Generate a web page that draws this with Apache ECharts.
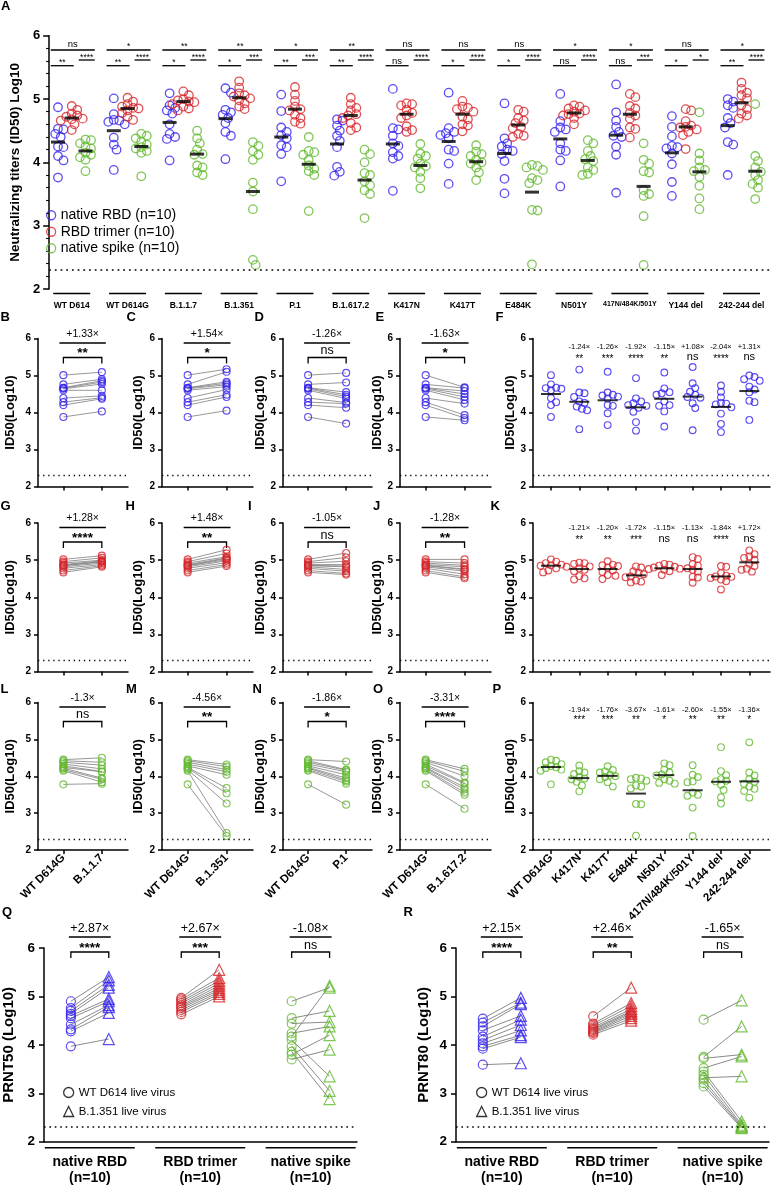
<!DOCTYPE html>
<html><head><meta charset="utf-8">
<script src="https://cdn.jsdelivr.net/npm/echarts@6/dist/echarts.min.js"></script>
<style>html,body{margin:0;padding:0;background:#fff}#c{width:772px;height:1188px}</style>
</head><body><div id="c"></div>
<script>
// ================= DATA =================
const CATS_A = ['WT D614','WT D614G','B.1.1.7','B.1.351','P.1','B.1.617.2','K417N','K417T','E484K','N501Y','417N/484K/501Y','Y144 del','242-244 del'];
const NAMES_A = ['native RBD (n=10)','RBD trimer (n=10)','native spike (n=10)'];
const LOD = 2.3;

const rbd = [
 [4.87,4.53,4.52,4.45,4.40,4.25,4.24,4.10,4.03,3.76],
 [5.01,4.76,4.67,4.66,4.64,4.60,4.39,4.28,4.20,3.88],
 [5.09,4.90,4.86,4.82,4.77,4.60,4.45,4.40,4.37,4.03],
 [5.17,5.10,4.83,4.79,4.75,4.70,4.62,4.48,4.42,4.05],
 [5.07,4.81,4.55,4.48,4.43,4.38,4.27,4.24,4.13,3.70],
 [4.68,4.66,4.58,4.50,4.42,4.34,4.24,3.93,3.85,3.79],
 [5.16,4.54,4.52,4.42,4.30,4.26,4.16,4.10,4.06,3.55],
 [5.10,4.54,4.48,4.46,4.43,4.38,4.20,4.18,3.98,3.66],
 [4.93,4.38,4.30,4.25,4.20,4.18,4.13,4.02,3.74,3.51],
 [5.08,4.65,4.55,4.52,4.48,4.30,4.20,4.18,4.03,3.62],
 [5.23,4.79,4.66,4.56,4.48,4.42,4.40,4.25,4.12,3.52],
 [4.73,4.56,4.41,4.26,4.24,4.22,4.14,3.97,3.69,3.47],
 [5.00,4.96,4.90,4.86,4.70,4.62,4.55,4.32,4.28,3.80]
];
const trimer = [
 [4.89,4.83,4.77,4.74,4.72,4.69,4.68,4.66,4.60,4.51],
 [5.02,4.96,4.92,4.88,4.86,4.85,4.82,4.78,4.72,4.67],
 [5.12,5.06,5.00,4.98,4.96,4.95,4.92,4.88,4.85,4.82],
 [5.28,5.18,5.09,5.06,5.04,5.01,4.98,4.93,4.88,4.84],
 [5.19,5.07,4.97,4.88,4.84,4.82,4.75,4.70,4.64,4.61],
 [5.02,4.92,4.86,4.82,4.76,4.74,4.70,4.62,4.55,4.51],
 [4.93,4.92,4.90,4.83,4.78,4.74,4.70,4.57,4.51,4.48],
 [4.97,4.88,4.86,4.84,4.80,4.72,4.68,4.60,4.58,4.49],
 [4.83,4.80,4.70,4.66,4.62,4.56,4.54,4.45,4.42,4.40],
 [4.90,4.88,4.85,4.82,4.80,4.77,4.76,4.74,4.70,4.60],
 [5.08,5.03,4.89,4.85,4.78,4.74,4.69,4.55,4.53,4.39],
 [4.84,4.82,4.65,4.58,4.56,4.55,4.52,4.48,4.43,4.21],
 [5.26,5.16,5.10,5.06,5.01,4.90,4.84,4.77,4.74,4.69]
];
const spike = [
 [4.36,4.35,4.30,4.25,4.22,4.15,4.12,4.08,4.04,3.86],
 [4.45,4.42,4.38,4.33,4.28,4.24,4.22,4.18,4.15,3.78],
 [4.50,4.38,4.30,4.20,4.13,4.12,3.95,3.92,3.84,3.80],
 [4.32,4.26,4.18,4.12,4.04,3.68,3.54,3.26,2.46,2.38],
 [4.40,4.18,4.16,4.12,4.04,3.95,3.90,3.86,3.80,3.23],
 [4.20,4.13,4.00,3.83,3.80,3.70,3.64,3.56,3.50,3.12],
 [4.29,4.14,4.10,4.06,3.98,3.94,3.92,3.85,3.75,3.59],
 [4.27,4.17,4.13,4.10,4.04,4.00,3.98,3.92,3.84,3.72],
 [3.96,3.94,3.92,3.88,3.75,3.72,3.67,3.25,3.24,2.39],
 [4.35,4.30,4.18,4.10,4.05,4.02,3.92,3.88,3.82,3.80],
 [4.30,4.04,3.98,3.86,3.84,3.56,3.50,3.47,3.15,2.38],
 [4.79,4.14,4.03,3.92,3.88,3.86,3.77,3.63,3.43,3.26],
 [4.92,4.10,4.02,3.92,3.85,3.80,3.72,3.66,3.60,3.42]
];
const rbdMed    = [4.32,4.50,4.63,4.69,4.40,4.29,4.29,4.33,4.14,4.37,4.43,4.15,4.58];
const trimerMed = [4.70,4.85,4.96,5.02,4.84,4.74,4.76,4.76,4.59,4.78,4.76,4.56,4.94];
const spikeMed  = [4.18,4.25,4.13,3.54,3.97,3.72,3.95,4.01,3.53,4.03,3.62,3.85,3.86];

const sigAll    = ['ns','*','**','**','*','**','ns','ns','ns','*','*','ns','*'];
const sigRbdTri = ['**','**','*','*','**','**','ns','*','*','ns','ns','*','**'];
const sigTriSpk = ['****','****','****','***','***','****','****','****','****','****','***','*','****'];

// paired panels (B-E, G-J, L-O): WT D614G vs variant
const PAIR_LEFT = 1;
const PAIR_RIGHT = [2,3,4,5];
const foldsRBD = ['+1.33×','+1.54×','-1.26×','-1.63×'];
const starsRBD = ['**','*','ns','*'];
const foldsTri = ['+1.28×','+1.48×','-1.05×','-1.28×'];
const starsTri = ['****','**','ns','**'];
const foldsSpk = ['-1.3×','-4.56×','-1.86×','-3.31×'];
const starsSpk = ['ns','**','*','****'];

// F, K, P panels
const MUT_IDX = [1,6,7,8,9,10,11,12];
const MUT_LABELS = ['WT D614G','K417N','K417T','E484K','N501Y','417N/484K/501Y','Y144 del','242-244 del'];
const mutFoldRBD = ['-1.24×','-1.26×','-1.92×','-1.15×','+1.08×','-2.04×','+1.31×'];
const mutStarRBD = ['**','***','****','**','ns','****','ns'];
const mutFoldTri = ['-1.21×','-1.20×','-1.72×','-1.15×','-1.13×','-1.84×','+1.72×'];
const mutStarTri = ['**','**','***','ns','ns','****','ns'];
const mutFoldSpk = ['-1.94×','-1.76×','-3.67×','-1.61×','-2.60×','-1.55×','-1.36×'];
const mutStarSpk = ['***','***','**','*','**','**','*'];

// Q, R live virus
const LIVE_GROUPS = ['native RBD\n(n=10)','RBD trimer\n(n=10)','native spike\n(n=10)'];
const prnt50WT = [
 [4.90,4.76,4.70,4.64,4.60,4.55,4.42,4.32,4.28,3.97],
 [4.97,4.94,4.90,4.86,4.82,4.79,4.76,4.72,4.68,4.63],
 [4.90,4.55,4.44,4.24,4.17,4.10,3.97,3.86,3.80,3.70]
];
const prnt50B = [
 [5.40,5.33,5.24,5.18,4.95,4.90,4.82,4.78,4.66,4.12],
 [5.55,5.38,5.32,5.27,5.22,5.17,5.13,5.09,5.05,5.00],
 [5.18,4.70,4.47,4.38,5.22,3.35,3.05,2.88,4.20,3.90]
];
const prnt80WT = [
 [4.54,4.46,4.38,4.30,4.17,4.10,4.03,3.97,3.92,3.59],
 [4.59,4.44,4.40,4.36,4.33,4.31,4.28,4.26,4.24,4.21],
 [4.52,3.75,3.72,3.52,3.45,3.38,3.32,3.28,3.21,3.14]
];
const prnt80B = [
 [4.97,4.87,4.84,4.60,4.52,4.41,4.30,4.20,4.16,3.62],
 [5.18,4.86,4.80,4.74,4.70,4.67,4.64,4.60,4.55,4.50],
 [4.92,4.38,3.80,3.76,2.42,2.35,3.35,2.32,2.30,2.28]
];
const foldsP50 = ['+2.87×','+2.67×','-1.08×'];
const starsP50 = ['****','***','ns'];
const foldsP80 = ['+2.15×','+2.46×','-1.65×'];
const starsP80 = ['****','**','ns'];

// ================= BUILD =================
const FONT = '"Liberation Sans", Arial, Helvetica, sans-serif';
const COLORS = ['#3322ee','#d7262b','#62b92d'];
const grids=[], xAxes=[], yAxes=[], series=[];

function hollow(color,bw){return {color:'rgba(255,255,255,0)',borderColor:color,borderWidth:bw};}
function lodLine(w,dash){return {silent:true,symbol:'none',label:{show:false},emphasis:{disabled:true},animation:false,lineStyle:{color:'#000',type:dash,width:w},data:[{yAxis:LOD}]};}
function txt(str,x,y,fs,weight){return {type:'text',x:x,y:y,style:{text:str,align:'center',verticalAlign:'middle',fontSize:fs,fontFamily:FONT,fontWeight:weight||'normal',fill:'#000'}};}
function sig(str,x,yc,fsStar,fsNs,wStar){const ns=str==='ns';const fs=ns?fsNs:fsStar;return txt(str,x,yc+(ns?0.05:0.25)*fs,fs,ns?'normal':(wStar||'normal'));}
function hline(x1,x2,y,lw){return {type:'line',shape:{x1:x1,y1:y,x2:x2,y2:y},style:{stroke:'#000',lineWidth:lw}};}
function bracket(x1,x2,y,leg,lw){return {type:'polyline',shape:{points:[[x1,y+leg],[x1,y],[x2,y],[x2,y+leg]]},style:{stroke:'#000',fill:null,lineWidth:lw}};}

function yAx(o){
  const a={type:'value',min:2,max:6,interval:1,
    axisLine:{show:true,onZero:false,lineStyle:{color:'#000',width:o.lw}},
    axisTick:{show:true,length:o.tl,lineStyle:{color:'#000',width:o.lw}},
    axisLabel:{color:'#000',fontFamily:FONT,fontWeight:'bold',fontSize:o.fs,margin:o.lm},
    splitLine:{show:false},
    name:o.name,nameLocation:'middle',nameGap:o.ng,nameRotate:90,
    nameTextStyle:{color:'#000',fontFamily:FONT,fontWeight:'bold',fontSize:o.nfs}};
  if(o.minor){a.minorTick={show:true,splitNumber:5,length:3,lineStyle:{color:'#000',width:1.1}};}
  return a;
}
function addGrid(box,xa,ya){grids.push(Object.assign({containLabel:false},box));const i=grids.length-1;xa.gridIndex=i;ya.gridIndex=i;
  xa.axisLine=Object.assign({onZero:false},xa.axisLine||{});xAxes.push(xa);yAxes.push(ya);return i;}

function swarm(vals,pxPerVal,d){
  const order=vals.map((v,i)=>i).sort((a,b)=>vals[b]-vals[a]);
  const placed=[];const off=new Array(vals.length).fill(0);const step=d*0.5;
  for(const i of order){
    const y=vals[i]*pxPerVal;
    for(let k=0;k<60;k++){
      const m=k===0?0:(k%2===1?Math.ceil(k/2):-Math.ceil(k/2));
      const x=m*step;
      if(placed.every(p=>Math.hypot(p[0]-x,p[1]-y)>=d)){placed.push([x,y]);off[i]=x;break;}
    }
  }
  return off;
}

// ---------- Panel A ----------
const A_UNIT=56.83, A_SUB=[-14,0,14], A_H=253.3;
const gA=addGrid({left:36,top:35.7,width:734,height:A_H},
  {type:'value',min:-0.405,max:12.511,axisLine:{show:false},axisTick:{show:false},splitLine:{show:false},
   axisLabel:{customValues:CATS_A.map((c,i)=>i),
     formatter:(v)=>{const s=CATS_A[Math.round(v)];return s.length>12?'{s|'+s+'}':s;},
     rich:{s:{fontSize:7,fontWeight:'bold',fontFamily:FONT,color:'#000'}},
     fontSize:8.5,fontWeight:'bold',fontFamily:FONT,color:'#000',margin:12}},
  yAx({lw:1.5,tl:6,fs:13,lm:9,name:'Neutralizing titers (ID50) Log10',ng:19,nfs:13.5,minor:true}));
[rbd,trimer,spike].forEach((arr,s)=>{
  const data=[];
  arr.forEach((vals,g)=>{
    const off=swarm(vals,A_H/4,5.6);
    vals.forEach((v,j)=>data.push([g+(A_SUB[s]+off[j])/A_UNIT,v]));
  });
  const sObj={type:'scatter',name:NAMES_A[s],xAxisIndex:gA,yAxisIndex:gA,silent:true,z:3,data:data,
    symbol:'circle',symbolSize:8.5,itemStyle:hollow(COLORS[s],1.3)};
  if(s===0) sObj.markLine=lodLine(1.6,[1.8,3.9]);
  series.push(sObj);
});
[rbdMed,trimerMed,spikeMed].forEach((med,s)=>{
  series.push({type:'scatter',xAxisIndex:gA,yAxisIndex:gA,silent:true,z:4,symbol:'rect',symbolSize:[14,3],
    itemStyle:{color:'#000'},data:med.map((m,g)=>[g+A_SUB[s]/A_UNIT,m])});
});
// underlines of A groups
series.push({type:'custom',xAxisIndex:gA,yAxisIndex:gA,silent:true,clip:false,data:CATS_A.map((c,i)=>[i,2]),
  renderItem:(p,api)=>{const c=api.coord([api.value(0),2]);return hline(c[0]-18.5,c[0]+18.5,c[1]+4.5,1.5);}});
// significance of A
series.push({type:'custom',xAxisIndex:gA,yAxisIndex:gA,silent:true,clip:false,data:CATS_A.map((c,i)=>[i,6]),
  renderItem:(p,api)=>{
    const i=api.value(0);const c=api.coord([i,6]);const cx=c[0],top=c[1];
    return {type:'group',children:[
      hline(cx-21,cx+23,top+14.3,1.3), sig(sigAll[i],cx+1,top+8.5,8.5,9.5),
      hline(cx+7,cx+23,top+24.3,1.3), sig(sigTriSpk[i],cx+15,top+19.5,8.5,9.5),
      hline(cx-21,cx+2,top+30,1.3), sig(sigRbdTri[i],cx-9.5,top+25,8.5,9.5)
    ]};
  }});

// ---------- Rows B-P ----------
const ROWS=[
  {top:338.5,h:148,arr:rbd,med:rbdMed,color:COLORS[0],folds:foldsRBD,stars:starsRBD,mFolds:mutFoldRBD,mStars:mutStarRBD,labels:false,mfy:8.5,msy:18},
  {top:523,h:148.5,arr:trimer,med:trimerMed,color:COLORS[1],folds:foldsTri,stars:starsTri,mFolds:mutFoldTri,mStars:mutStarTri,labels:false,mfy:5,msy:15},
  {top:702.5,h:147.5,arr:spike,med:spikeMed,color:COLORS[2],folds:foldsSpk,stars:starsSpk,mFolds:mutFoldSpk,mStars:mutStarSpk,labels:true,mfy:7.5,msy:15.5}
];
const COLS=[{left:38,w:90,ng:21},{left:162,w:91,ng:17.5},{left:283,w:89,ng:15},{left:400,w:91,ng:15}];
const PAIR_LABELS=CATS_A;

ROWS.forEach((row)=>{
  COLS.forEach((col,c)=>{
    const rIdx=PAIR_RIGHT[c];
    const g=addGrid({left:col.left,top:row.top,width:col.w,height:row.h},
      {type:'value',min:-0.66,max:1.68,splitLine:{show:false},
       axisLine:{show:true,lineStyle:{color:'#000',width:1.5}},
       axisTick:{show:true,customValues:[0,1],length:4,lineStyle:{color:'#000',width:1.5}},
       axisLabel:{show:row.labels,customValues:[0,1],formatter:(v)=>PAIR_LABELS[Math.round(v)===0?PAIR_LEFT:rIdx],
         rotate:45,fontSize:11.5,fontWeight:'bold',fontFamily:FONT,color:'#000',margin:6}},
      yAx({lw:1.5,tl:4,fs:10,lm:7,name:'ID50(Log10)',ng:col.ng,nfs:13}));
    const L=row.arr[PAIR_LEFT],R=row.arr[rIdx];
    series.push({type:'custom',xAxisIndex:g,yAxisIndex:g,silent:true,z:2,data:L.map((v,i)=>[v,R[i]]),
      renderItem:(p,api)=>{const a=api.coord([0,api.value(0)]),b=api.coord([1,api.value(1)]);
        return {type:'line',shape:{x1:a[0],y1:a[1],x2:b[0],y2:b[1]},style:{stroke:'#7d7d7d',lineWidth:0.8}};}});
    series.push({type:'scatter',xAxisIndex:g,yAxisIndex:g,silent:true,z:3,symbol:'circle',symbolSize:7,
      itemStyle:hollow(row.color,1.1),data:L.map(v=>[0,v]).concat(R.map(v=>[1,v])),markLine:lodLine(1.3,[1.3,3.8])});
    const fold=row.folds[c],star=row.stars[c];
    series.push({type:'custom',xAxisIndex:g,yAxisIndex:g,silent:true,clip:false,data:[[0,6]],
      renderItem:(p,api)=>{const a=api.coord([0,6]),b=api.coord([1,6]);const top=a[1],mid=(a[0]+b[0])/2;
        return {type:'group',children:[
          txt(fold,mid,top-4.5,10.5),
          hline(a[0]-4,b[0]+4,top+4.5,1.3),
          sig(star,mid,top+11.5,13.5,12.5,'bold'),
          bracket(a[0],b[0],top+19,6,1.3)
        ]};}});
  });
  // F / K / P
  const gF=addGrid({left:533,top:row.top,width:237,height:row.h},
    {type:'value',min:-0.634,max:7.73,splitLine:{show:false},
     axisLine:{show:true,lineStyle:{color:'#000',width:1.5}},
     axisTick:{show:true,customValues:[0,1,2,3,4,5,6,7],length:4,lineStyle:{color:'#000',width:1.5}},
     axisLabel:{show:row.labels,customValues:[0,1,2,3,4,5,6,7],formatter:(v)=>MUT_LABELS[Math.round(v)],
       rotate:45,fontSize:11.5,fontWeight:'bold',fontFamily:FONT,color:'#000',margin:6}},
    yAx({lw:1.5,tl:4,fs:10,lm:7,name:'ID50(Log10)',ng:14.5,nfs:13}));
  const F_UNIT=237/8.364;
  const fdata=[];
  MUT_IDX.forEach((gi,k)=>{const vals=row.arr[gi];const off=swarm(vals,row.h/4,5.2);vals.forEach((v,j)=>fdata.push([k+off[j]/F_UNIT,v]));});
  series.push({type:'scatter',xAxisIndex:gF,yAxisIndex:gF,silent:true,z:3,symbol:'circle',symbolSize:6.8,
    itemStyle:hollow(row.color,1.1),data:fdata,markLine:lodLine(1.3,[1.3,3.8])});
  series.push({type:'scatter',xAxisIndex:gF,yAxisIndex:gF,silent:true,z:4,symbol:'rect',symbolSize:[20,2],
    itemStyle:{color:'#000'},data:MUT_IDX.map((gi,k)=>[k,row.med[gi]])});
  series.push({type:'custom',xAxisIndex:gF,yAxisIndex:gF,silent:true,clip:false,data:row.mFolds.map((f,k)=>[k+1,6]),
    renderItem:(p,api)=>{const k=api.value(0);const c=api.coord([k,6]);
      return {type:'group',children:[txt(row.mFolds[k-1],c[0],c[1]+row.mfy,7.5),sig(row.mStars[k-1],c[0],c[1]+row.msy,10,11)]};}});
});

// ---------- Q / R ----------
function livePanel(left,width,WT,B,folds,stars,name,ng){
  const g=addGrid({left:left,top:948,width:width,height:193.7},
    {type:'value',min:-0.415,max:2.42,splitLine:{show:false},
     axisLine:{show:true,lineStyle:{color:'#000',width:1.5}},axisTick:{show:false},
     axisLabel:{customValues:[0,1,2],formatter:(v)=>LIVE_GROUPS[Math.round(v)],fontSize:14,fontWeight:'bold',
       fontFamily:FONT,color:'#000',lineHeight:15.5,margin:13}},
    yAx({lw:1.5,tl:5,fs:13.5,lm:9,name:name,ng:ng,nfs:15}));
  const unit=width/2.835, off=19/unit;
  const pairs=[];WT.forEach((arr,gi)=>arr.forEach((v,j)=>pairs.push([gi,v,B[gi][j]])));
  series.push({type:'custom',xAxisIndex:g,yAxisIndex:g,silent:true,z:2,data:pairs,
    renderItem:(p,api)=>{const gi=api.value(0);const a=api.coord([gi-off,api.value(1)]),b=api.coord([gi+off,api.value(2)]);
      return {type:'line',shape:{x1:a[0],y1:a[1],x2:b[0],y2:b[1]},style:{stroke:'#7d7d7d',lineWidth:0.9}};}});
  WT.forEach((arr,gi)=>{
    const sObj={type:'scatter',name:'WT D614 live virus',xAxisIndex:g,yAxisIndex:g,silent:true,z:3,symbol:'circle',symbolSize:9,
      itemStyle:hollow(COLORS[gi],1.2),data:arr.map(v=>[gi-off,v])};
    if(gi===0) sObj.markLine=lodLine(1.5,[1.6,3.8]);
    series.push(sObj);
    series.push({type:'scatter',name:'B.1.351 live virus',xAxisIndex:g,yAxisIndex:g,silent:true,z:3,symbol:'triangle',symbolSize:11,
      itemStyle:hollow(COLORS[gi],1.2),data:B[gi].map(v=>[gi+off,v])});
  });
  series.push({type:'custom',xAxisIndex:g,yAxisIndex:g,silent:true,clip:false,data:[[0,2],[1,2],[2,2]],
    renderItem:(p,api)=>{const c=api.coord([api.value(0),2]);return hline(c[0]-45,c[0]+45,c[1]+6,1.5);}});
  series.push({type:'custom',xAxisIndex:g,yAxisIndex:g,silent:true,clip:false,data:[[0,6],[1,6],[2,6]],
    renderItem:(p,api)=>{const gi=api.value(0);const a=api.coord([gi-off,6]),b=api.coord([gi+off,6]);const top=a[1],mid=(a[0]+b[0])/2;
      return {type:'group',children:[
        txt(folds[gi],mid,top-19,12.5),
        hline(a[0]-2,b[0]+2,top-11,1.3),
        sig(stars[gi],mid,top-3,13.5,12.5,'bold'),
        bracket(a[0],b[0],top+4,6,1.3)
      ]};}});
}
livePanel(43.3,313.7,prnt50WT,prnt50B,foldsP50,starsP50,'PRNT50 (Log10)',28);
livePanel(456,313,prnt80WT,prnt80B,foldsP80,starsP80,'PRNT80 (Log10)',24.5);

// ---------- letters ----------
const LETTERS=[['A',1,0],['B',0.5,310.5],['C',126.5,310.5],['D',254.5,310.5],['E',375.5,310.5],['F',495.5,310.5],
 ['G',0.5,499.5],['H',125.5,499.5],['I',248,499.5],['J',373,499.5],['K',490.5,499.5],
 ['L',0.5,682.5],['M',126,682.5],['N',252.5,682.5],['O',373,682.5],['P',492.5,682.5],
 ['Q',2,905.5],['R',403.5,905.5]];

const legendText={fontSize:14,fontFamily:FONT,color:'#000',lineHeight:16.5};
const liveLegendData=[{name:'WT D614 live virus',icon:'circle',itemStyle:hollow('#000',1.3)},{name:'B.1.351 live virus',icon:'triangle',itemStyle:hollow('#000',1.3)}];
const option={
  animation:false,backgroundColor:'#fff',
  textStyle:{fontFamily:FONT},
  title:LETTERS.map(l=>({text:l[0],left:l[1],top:l[2],padding:0,textStyle:{fontSize:13,fontWeight:'bold',fontFamily:FONT,color:'#000'}})),
  legend:[
    {left:46,top:207,orient:'vertical',padding:0,itemGap:0,itemWidth:9,itemHeight:9,selectedMode:false,textStyle:legendText,
     data:NAMES_A.map((n,i)=>({name:n,icon:'circle',itemStyle:hollow(COLORS[i],1.3)}))},
    {left:63,top:1086,orient:'vertical',padding:0,itemGap:6,itemWidth:10,itemHeight:10,selectedMode:false,
     textStyle:{fontSize:11.5,fontFamily:FONT,color:'#000',lineHeight:13},data:liveLegendData},
    {left:476,top:1086,orient:'vertical',padding:0,itemGap:6,itemWidth:10,itemHeight:10,selectedMode:false,
     textStyle:{fontSize:11.5,fontFamily:FONT,color:'#000',lineHeight:13},data:liveLegendData}
  ],
  grid:grids,xAxis:xAxes,yAxis:yAxes,series:series
};
const chart=echarts.init(document.getElementById('c'),null,{renderer:'canvas'});
chart.setOption(option);
</script></body></html>
